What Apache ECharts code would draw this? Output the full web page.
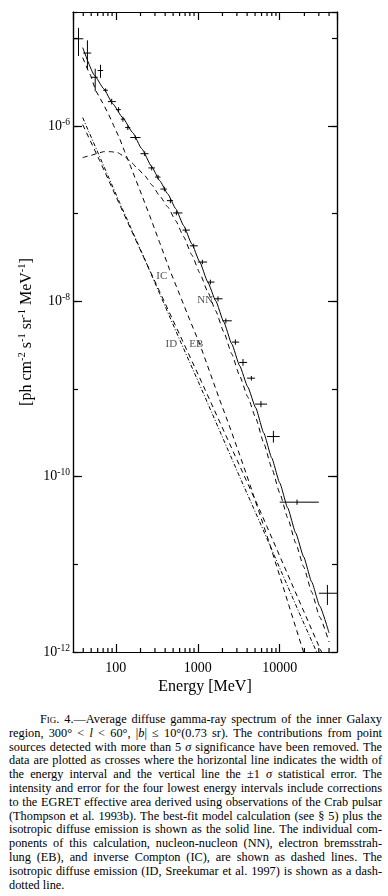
<!DOCTYPE html>
<html>
<head>
<meta charset="utf-8">
<script src="https://cdn.jsdelivr.net/npm/echarts@6/dist/echarts.min.js"></script>
<style>
html, body { margin: 0; padding: 0; background: #fff; }
#chart { width: 388px; height: 700px; }
#cap { position: absolute; left: 9px; top: 713px; width: 373px; font-family: 'Liberation Serif', 'Times New Roman', serif; font-size: 12.3px; line-height: 13.8px; color: #000; }
#cap div { text-align: justify; text-align-last: justify; }
#cap div.first { text-indent: 31px; }
#cap div.last { text-align-last: left; }
.sc { font-variant: small-caps; }
</style>
</head>
<body>
<div id="chart"></div>
<div id="cap">
<div class="first"><span class="sc">Fig.</span> 4.—Average diffuse gamma-ray spectrum of the inner Galaxy</div>
<div>region, 300° &lt; <i>l</i> &lt; 60°, |<i>b</i>| ≤ 10°(0.73 sr). The contributions from point</div>
<div>sources detected with more than 5 <i>σ</i> significance have been removed. The</div>
<div>data are plotted as crosses where the horizontal line indicates the width of</div>
<div>the energy interval and the vertical line the ±1 <i>σ</i> statistical error. The</div>
<div>intensity and error for the four lowest energy intervals include corrections</div>
<div>to the EGRET effective area derived using observations of the Crab pulsar</div>
<div>(Thompson et al. 1993b). The best-fit model calculation (see § 5) plus the</div>
<div>isotropic diffuse emission is shown as the solid line. The individual com-</div>
<div>ponents of this calculation, nucleon-nucleon (NN), electron bremsstrah-</div>
<div>lung (EB), and inverse Compton (IC), are shown as dashed lines. The</div>
<div>isotropic diffuse emission (ID, Sreekumar et al. 1997) is shown as a dash-</div>
<div class="last">dotted line.</div>
</div>
<script>
// EGRET data points: bin centre, bin edges, flux and +-1 sigma
var binE = [35, 45, 56, 65, 75, 89, 108, 122, 140, 173, 225, 274, 327, 391, 463, 548, 706, 892, 1137, 1425, 1765, 2200, 2876, 3562, 4510, 5900, 8370, 16260, 38200];
var binLo = [30, 40, 50, 60, 70, 80, 100, 115, 130, 150, 200, 250, 300, 350, 420, 500, 650, 800, 1000, 1300, 1600, 2000, 2600, 3200, 4000, 5000, 7000, 10000, 30000];
var binHi = [40, 50, 60, 70, 80, 100, 115, 130, 150, 200, 250, 300, 350, 420, 500, 650, 800, 1000, 1300, 1600, 2000, 2600, 3200, 4000, 5000, 7000, 10000, 30000, 50000];
var flux = [9.9e-6, 6.8e-6, 3.6e-6, 4.3e-6, 2.56e-6, 1.90e-6, 1.54e-6, 1.20e-6, 9.6e-7, 7.4e-7, 4.84e-7, 3.33e-7, 2.62e-7, 1.91e-7, 1.41e-7, 1.02e-7, 6.5e-8, 4.3e-8, 2.81e-8, 1.66e-8, 1.07e-8, 6.0e-9, 3.43e-9, 2.01e-9, 1.33e-9, 6.73e-10, 2.87e-10, 5.12e-11, 4.68e-12];
var fluxLo = [6.3e-6, 4.4e-6, 2.5e-6, 3.55e-6, 2.44e-6, 1.76e-6, 1.44e-6, 1.12e-6, 9.0e-7, 7.0e-7, 4.55e-7, 3.12e-7, 2.47e-7, 1.80e-7, 1.32e-7, 9.6e-8, 6.1e-8, 4.05e-8, 2.65e-8, 1.56e-8, 1.0e-8, 5.6e-9, 3.2e-9, 1.84e-9, 1.25e-9, 6.2e-10, 2.45e-10, 4.78e-11, 3.44e-12];
var fluxHi = [1.32e-5, 9.5e-6, 4.5e-6, 5.0e-6, 2.69e-6, 2.05e-6, 1.64e-6, 1.28e-6, 1.02e-6, 7.8e-7, 5.15e-7, 3.55e-7, 2.78e-7, 2.03e-7, 1.50e-7, 1.08e-7, 6.9e-8, 4.56e-8, 2.98e-8, 1.77e-8, 1.14e-8, 6.4e-9, 3.68e-9, 2.2e-9, 1.41e-9, 7.3e-10, 3.33e-10, 5.48e-11, 5.82e-12];

// model curves
var totalE = [39.4, 55.2, 71.1, 91.5, 121.2, 160.6, 206.8, 274, 343, 429, 538, 673, 843, 1055, 1321, 1654, 2072, 2593, 3247, 4067, 5090, 6374, 7983, 9993, 12510, 15660, 19610, 24560, 30750, 40000];
var totalF = [7.85e-6, 3.76e-6, 2.67e-6, 1.80e-6, 1.247e-6, 8.41e-7, 5.52e-7, 3.44e-7, 2.38e-7, 1.69e-7, 1.14e-7, 7.29e-8, 4.54e-8, 2.83e-8, 1.67e-8, 1.016e-8, 5.85e-9, 3.28e-9, 1.84e-9, 1.06e-9, 6.10e-10, 3.16e-10, 1.64e-10, 8.50e-11, 4.40e-11, 2.28e-11, 1.215e-11, 6.30e-12, 3.35e-12, 1.65e-12];
var nnE = [39.4, 48.0, 58.4, 71.1, 86.5, 105.3, 128.2, 156.1, 184.8, 225, 274, 343, 429, 538, 673, 843, 1055, 1321, 1654, 2072, 2593, 3247, 4067, 5090, 6374, 7983, 9993, 12510, 15660, 19610, 24560, 30750, 40000];
var nnF = [4.36e-7, 4.59e-7, 4.84e-7, 5.10e-7, 5.10e-7, 4.97e-7, 4.47e-7, 3.82e-7, 3.26e-7, 2.72e-7, 2.14e-7, 1.60e-7, 1.20e-7, 8.32e-8, 5.46e-8, 3.40e-8, 2.12e-8, 1.29e-8, 7.81e-9, 4.50e-9, 2.52e-9, 1.41e-9, 8.15e-10, 4.69e-10, 2.43e-10, 1.26e-10, 6.53e-11, 3.39e-11, 1.75e-11, 9.34e-12, 4.84e-12, 2.51e-12, 1.30e-12];
var ebE = [39.4, 45.4, 49.3, 56.8, 63.5, 71.1, 81.8, 94.2, 111.4, 128.2, 151.8, 195.5, 259, 343, 454, 602, 797, 1055, 1398, 1851, 2452, 3247, 4301, 5695, 7546, 9993, 13230, 17530, 24560, 40000];
var ebF = [6.04e-6, 4.40e-6, 3.76e-6, 2.54e-6, 2.11e-6, 1.75e-6, 1.35e-6, 1.01e-6, 7.18e-7, 5.10e-7, 3.44e-7, 1.88e-7, 9.49e-8, 4.67e-8, 2.29e-8, 1.19e-8, 6.17e-9, 3.28e-9, 1.57e-9, 7.53e-10, 3.70e-10, 1.77e-10, 8.28e-11, 3.76e-11, 1.71e-11, 7.37e-12, 3.18e-12, 1.37e-12, 5.05e-13, 1.19e-13];
var icE = [39.4, 63.5, 111.4, 195.5, 343, 602, 1055, 1851, 3247, 5695, 9993, 17530, 30750, 40000];
var icF = [1.038e-6, 4.03e-7, 1.267e-7, 3.99e-8, 1.29e-8, 4.16e-9, 1.342e-9, 4.22e-10, 1.328e-10, 4.18e-11, 1.247e-11, 3.72e-12, 1.11e-12, 6.57e-13];
var idE = [39.4, 63.5, 111.4, 195.5, 343, 602, 1055, 1851, 3247, 5695, 9993, 17530, 30750, 40000];
var idF = [1.247e-6, 4.47e-7, 1.335e-7, 4.09e-8, 1.22e-8, 3.64e-9, 1.116e-9, 3.33e-10, 9.95e-11, 3.05e-11, 9.10e-12, 2.72e-12, 8.32e-13, 4.79e-13];

// curve labels
var tagNames = ['IC', 'NN', 'ID', 'EB'];
var tagE = [363, 1233, 475, 957];
var tagF = [1.96e-8, 1.04e-8, 3.24e-9, 3.24e-9];

// axes
var eMin = 30, eMax = 50000;
var fMin = 1e-12, fMax = 2e-5;
var minorTicks = [40, 50, 60, 70, 80, 90, 200, 300, 400, 500, 600, 700, 800, 900, 2000, 3000, 4000, 5000, 6000, 7000, 8000, 9000, 20000, 30000, 40000];

window.onload = function() {
  var ch = echarts.init(document.getElementById('chart'));
  var lg = function(v) { return Math.log(v) / Math.LN10; };
  var yMin = Math.round(lg(fMin)), yMax = lg(fMax);
  var serif = "'Liberation Serif', 'Times New Roman', serif";

  var curve = function(es, fs) {
    return es.map(function(e, i) { return [e, lg(fs[i])]; });
  };
  var crosses = binE.map(function(e, i) {
    return [e, binLo[i], binHi[i], lg(flux[i]), lg(fluxLo[i]), lg(fluxHi[i])];
  });
  var tags = tagNames.map(function(n, i) { return { name: n, value: [tagE[i], lg(tagF[i])] }; });

  var black = { color: '#000', width: 1.2 };
  var supRich = {
    a: { fontSize: 14, fontFamily: serif, color: '#000', lineHeight: 18 },
    s: { fontSize: 9.5, fontFamily: serif, color: '#000', verticalAlign: 'top', lineHeight: 18 }
  };
  var yAxisBase = function(pos, interval, len, labels) {
    return {
      type: 'value', position: pos, min: yMin, max: yMax, interval: interval,
      axisLine: { show: true, lineStyle: black },
      axisTick: { show: true, inside: true, length: len, lineStyle: black },
      axisLabel: labels ? {
        show: true, margin: 3, showMaxLabel: false,
        formatter: function(v) { return '{a|10}{s|' + Math.round(v) + '}'; },
        rich: supRich
      } : { show: false },
      splitLine: { show: false }
    };
  };
  var yLeft = yAxisBase('left', 2, 9, true);
  yLeft.name = '{a|[ph cm}{s|-2}{a| s}{s|-1}{a| sr}{s|-1}{a| MeV}{s|-1}{a|]}';
  yLeft.nameLocation = 'middle';
  yLeft.nameGap = 36;
  yLeft.nameRotate = 90;
  yLeft.nameMoveOverlap = false;
  yLeft.nameTextStyle = {
    rich: {
      a: { fontSize: 16, fontFamily: serif, color: '#000', lineHeight: 20 },
      s: { fontSize: 10.5, fontFamily: serif, color: '#000', verticalAlign: 'top', lineHeight: 20 }
    }
  };

  var line = function(name, data, type, smooth) {
    return {
      name: name, type: 'line', data: data,
      showSymbol: false, symbol: 'none', smooth: smooth, smoothMonotone: 'x', clip: true,
      lineStyle: { color: '#000', width: 1, type: type }
    };
  };

  var op = {
    animation: false,
    grid: { left: 73, right: 51, top: 12, bottom: 48, containLabel: false, outerBoundsMode: 'none' },
    xAxis: [{
      type: 'log', position: 'bottom', min: eMin, max: eMax,
      axisLine: { show: true, lineStyle: black },
      axisTick: { show: true, inside: true, length: 8, lineStyle: black },
      axisLabel: {
        show: true, margin: 9, showMinLabel: false, showMaxLabel: false,
        fontSize: 14, fontFamily: serif, color: '#000',
        formatter: function(v) { return String(Math.round(v)); }
      },
      splitLine: { show: false },
      name: 'Energy [MeV]', nameLocation: 'middle', nameGap: 27, nameMoveOverlap: false,
      nameTextStyle: { fontSize: 16, fontFamily: serif, color: '#000' }
    }, {
      type: 'log', position: 'top', min: eMin, max: eMax,
      axisLine: { show: true, lineStyle: black },
      axisTick: { show: true, inside: true, length: 8, lineStyle: black },
      axisLabel: { show: false },
      splitLine: { show: false }
    }],
    yAxis: [
      yLeft,
      yAxisBase('left', 1, 5, false),
      yAxisBase('right', 2, 9, false),
      yAxisBase('right', 1, 5, false)
    ],
    series: [{
      name: 'minor', type: 'custom', silent: true,
      data: minorTicks.map(function(v) { return [v, yMin]; }),
      encode: { x: 0, y: 1 },
      renderItem: function(params, api) {
        var b = api.coord([api.value(0), yMin]);
        var t = api.coord([api.value(0), yMax]);
        return {
          type: 'group', children: [
            { type: 'line', shape: { x1: b[0], y1: b[1], x2: b[0], y2: b[1] - 4 }, style: { stroke: '#000', lineWidth: 1.2 } },
            { type: 'line', shape: { x1: t[0], y1: t[1], x2: t[0], y2: t[1] + 4 }, style: { stroke: '#000', lineWidth: 1.2 } }
          ]
        };
      }
    }, {
      name: 'data', type: 'custom', clip: true,
      data: crosses,
      encode: { x: [0, 1, 2], y: [3, 4, 5] },
      renderItem: function(params, api) {
        var a = api.coord([api.value(1), api.value(3)]);
        var b = api.coord([api.value(2), api.value(3)]);
        var c = api.coord([api.value(0), api.value(4)]);
        var d = api.coord([api.value(0), api.value(5)]);
        return {
          type: 'group', children: [
            { type: 'line', shape: { x1: a[0], y1: a[1], x2: b[0], y2: b[1] }, style: { stroke: '#000', lineWidth: 1 } },
            { type: 'line', shape: { x1: c[0], y1: c[1], x2: d[0], y2: d[1] }, style: { stroke: '#000', lineWidth: 1 } }
          ]
        };
      }
    },
      line('total', curve(totalE, totalF), 'solid', 0.15),
      line('NN', curve(nnE, nnF), [5, 4], 0.15),
      line('EB', curve(ebE, ebF), [5, 4], false),
      line('IC', curve(icE, icF), [5, 4], false),
      line('ID', curve(idE, idF), [4, 2, 1, 2], false),
    {
      name: 'tags', type: 'custom', silent: true,
      data: tags,
      encode: { x: 0, y: 1 },
      renderItem: function(params, api) {
        var p = api.coord([api.value(0), api.value(1)]);
        return {
          type: 'text', x: p[0], y: p[1],
          style: { text: tagNames[params.dataIndex], fill: '#555', fontSize: 11, fontFamily: serif, align: 'center', verticalAlign: 'middle' }
        };
      }
    }]
  };
  ch.setOption(op);
};
</script>
</body>
</html>
